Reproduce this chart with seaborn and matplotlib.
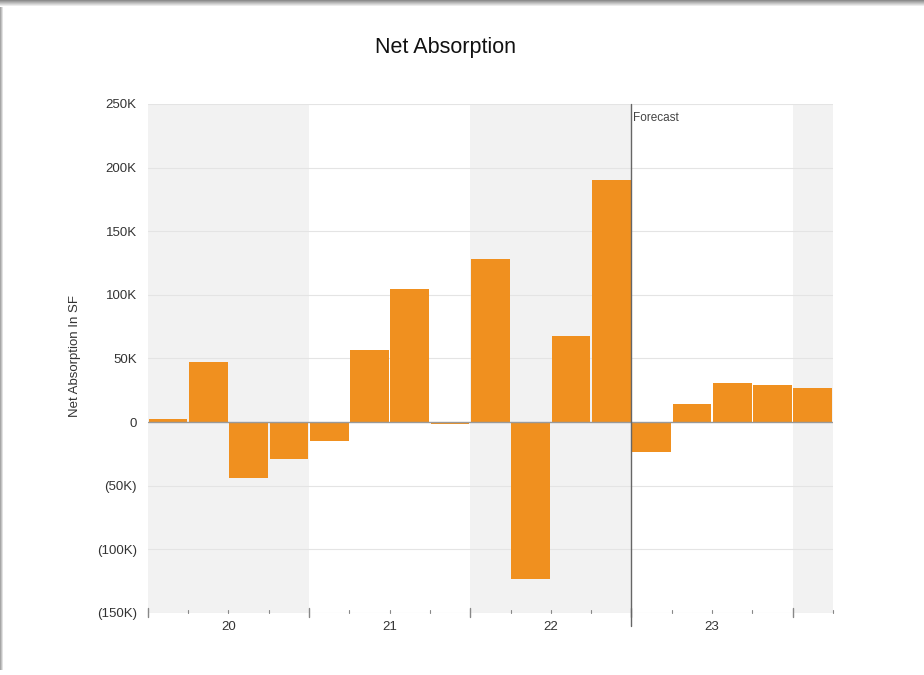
import numpy as np
import pandas as pd
import matplotlib
matplotlib.use("Agg")
import matplotlib.pyplot as plt
import seaborn as sns

# Quarterly net absorption (square feet), 2020 Q1 through 2024 Q1
quarters = ["20Q1", "20Q2", "20Q3", "20Q4",
            "21Q1", "21Q2", "21Q3", "21Q4",
            "22Q1", "22Q2", "22Q3", "22Q4",
            "23Q1", "23Q2", "23Q3", "23Q4",
            "24Q1"]
net_absorption = [2000, 47000, -44000, -29000,
                  -15000, 56500, 104500, -1500,
                  128000, -123000, 67500, 190000,
                  -23500, 14000, 30500, 29500,
                  26500]
year_labels = ["20", "21", "22", "23"]
forecast_start = "23Q1"

sns.set_theme(style="white")
plt.rcParams["font.family"] = ["Liberation Sans", "DejaVu Sans"]

df = pd.DataFrame({"quarter": quarters, "value": net_absorption})

fig = plt.figure(figsize=(9.24, 6.75), dpi=100)
fig.patch.set_facecolor("white")
ax = fig.add_axes([0.160, 0.092, 0.7415, 0.754])

n = len(quarters)
# Alternating year bands
for start in range(0, n, 8):
    ax.axvspan(start - 0.5, min(start + 3.5, n - 0.5), color="#f2f2f2", zorder=0, lw=0)

sns.barplot(data=df, x="quarter", y="value", color="#f0901f", saturation=1,
            width=0.96, ax=ax, zorder=3, edgecolor="none")

ax.set_xlim(-0.5, n - 0.5)
ax.set_ylim(-150000, 250000)
yticks = np.arange(-150000, 250001, 50000)
ax.set_yticks(yticks)

def fmt(v):
    if v == 0:
        return "0"
    k = int(abs(v) / 1000)
    return f"({k}K)" if v < 0 else f"{k}K"

ax.set_yticklabels([fmt(v) for v in yticks], fontsize=9.5, color="#333333")
ax.tick_params(axis="y", length=0, pad=8)
for v in yticks:
    if v not in (0, -150000):
        ax.axhline(v, color="#e4e4e4", lw=0.8, zorder=1)
ax.axhline(0, color="#999999", lw=1.0, zorder=4)
ax.axhline(-150000, color="#e4e4e4", lw=0.8, zorder=1)

for s in ax.spines.values():
    s.set_visible(False)

# Quarter ticks along the bottom, longer at year boundaries
ax.set_xticks([])
ax.set_xlabel("")
ybase = -150000
for i in range(n + 1):
    xpos = i - 0.5
    major = (i % 4 == 0)
    ax.plot([xpos, xpos], [ybase - (0 if not major else 3500), ybase + (2500 if not major else 4000)],
            color="#888888", lw=1.0 if major else 0.8, clip_on=False, zorder=5)
for j, lab in enumerate(year_labels):
    ax.text(j * 4 + 1.5, ybase - 6500, lab, ha="center", va="top",
            fontsize=9.5, color="#333333")

# Forecast divider
fx = quarters.index(forecast_start) - 0.5
ax.plot([fx, fx], [-151000 - 9000, 250000], color="#666666", lw=1.0,
        clip_on=False, zorder=6)
ax.text(fx + 0.05, 243500, "Forecast", ha="left", va="top", fontsize=8.5, color="#444444")

ax.set_ylabel("Net Absorption In SF", fontsize=9.5, color="#333333")
ax.yaxis.set_label_coords(-0.098, 0.505)

fig.text(0.482, 0.930, "Net Absorption", ha="center", va="center", fontsize=15.5, color="#111111")

# Soft card shadow along the top and left edges
top = fig.add_axes([0, 1 - 7 / 675, 1, 7 / 675])
grad = np.linspace(0.55, 1.0, 7).reshape(-1, 1)
top.imshow(np.repeat(grad, 10, axis=1), cmap="gray", vmin=0, vmax=1, aspect="auto",
           extent=[0, 1, 0, 1])
top.axis("off")
left = fig.add_axes([0, 5 / 675, 4 / 924, 1 - 12 / 675])
lgrad = np.linspace(0.65, 1.0, 4).reshape(1, -1)
left.imshow(np.repeat(lgrad, 10, axis=0), cmap="gray", vmin=0, vmax=1, aspect="auto",
            extent=[0, 1, 0, 1])
left.axis("off")

fig.savefig("out.png", dpi=100, facecolor="white")
